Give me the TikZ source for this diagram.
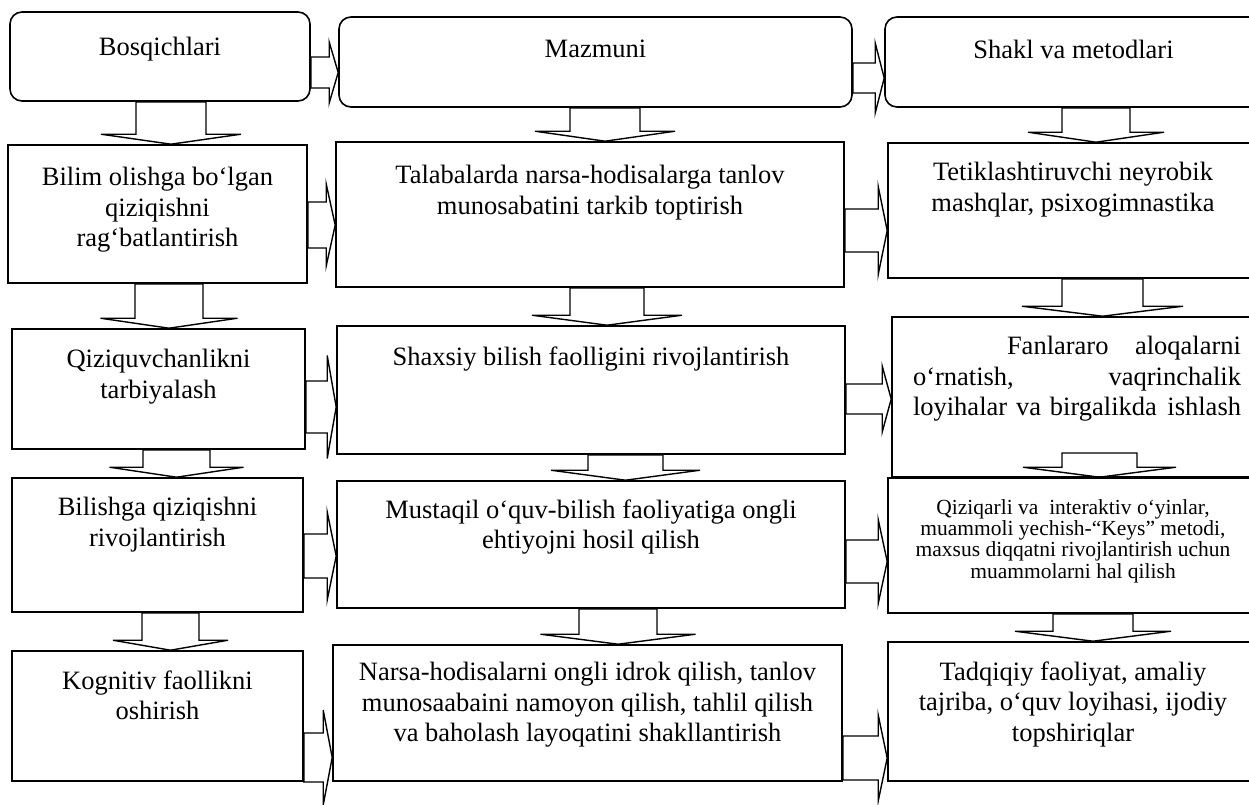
\documentclass[tikz,border=0pt]{standalone}
\usepackage{fontspec}
\setmainfont{Liberation Serif}
\usetikzlibrary{positioning,calc}
\tikzset{
  cellbox/.style={rectangle,draw=black,line width=1.6pt,fill=white,inner sep=0pt},
  headbox/.style={cellbox,rounded corners=12pt},
  celltext/.style={inner sep=0pt,align=center,font=\fontsize{26.5}{30.5}\selectfont},
  smalltext/.style={celltext,font=\fontsize{21.5}{21.3}\selectfont},
  blockarr/.style={draw=black,line width=1.4pt,line join=miter}
}
% hollow block arrows: start point, tip point, centre, shaft half width, head half width
\newcommand{\dnarrow}[5]{%
  \draw[blockarr] ($(#1 -| #3,0)+(-#4,0)$) -- ($(#2 -| #3,0)+(-#4,-10)$)
    -- ($(#2 -| #3,0)+(-#5,-10)$) -- (#2 -| #3,0)
    -- ($(#2 -| #3,0)+(#5,-10)$) -- ($(#2 -| #3,0)+(#4,-10)$)
    -- ($(#1 -| #3,0)+(#4,0)$) -- cycle;}
\newcommand{\rtarrow}[5]{%
  \draw[blockarr] ($(#1 |- 0,#3)+(0,-#4)$) -- ($(#2 |- 0,#3)+(-9,-#4)$)
    -- ($(#2 |- 0,#3)+(-9,-#5)$) -- (#2 |- 0,#3)
    -- ($(#2 |- 0,#3)+(-9,#5)$) -- ($(#2 |- 0,#3)+(-9,#4)$)
    -- ($(#1 |- 0,#3)+(0,#4)$) -- cycle;}

\begin{document}
\begin{tikzpicture}[x=1pt,y=-1pt]
  \clip (0,0) rectangle (1249,804);
  \fill[white] (0,0) rectangle (1249,804);
  % headers
  \node[headbox,minimum width=300pt,minimum height=89pt] (h1) at (160,56.5) {};
  \node[headbox,minimum width=513pt,minimum height=90pt] (h2) at (595.5,62) {};
  \node[headbox,minimum width=377pt,minimum height=90pt] (h3) at (1073.5,62) {};
  \node[celltext,below=26pt of h1.north] (h1t) {Bosqichlari};
  \node[celltext,below=24pt of h2.north] (h2t) {Mazmuni};
  \node[celltext,below=24pt of h3.north] (h3t) {Shakl va metodlari};
  % stages
  \node[cellbox,minimum width=299pt,minimum height=138pt] (a1) at (157.5,214) {};
  \node[cellbox,minimum width=293pt,minimum height=120pt] (a2) at (158.5,389) {};
  \node[cellbox,minimum width=291pt,minimum height=134pt] (a3) at (157.5,545) {};
  \node[cellbox,minimum width=291pt,minimum height=130pt] (a4) at (157.5,716) {};
  \node[celltext,below=23pt of a1.north] (a1t) {Bilim olishga bo‘lgan\\qiziqishni\\rag‘batlantirish};
  \node[celltext,below=21pt of a2.north] (a2t) {Qiziquvchanlikni\\tarbiyalash};
  \node[celltext,below=20pt of a3.north] (a3t) {Bilishga qiziqishni\\rivojlantirish};
  \node[celltext,below=20pt of a4.north] (a4t) {Kognitiv faollikni\\oshirish};
  % content
  \node[cellbox,minimum width=508pt,minimum height=145pt] (b1) at (590,214.5) {};
  \node[cellbox,minimum width=508pt,minimum height=128pt] (b2) at (591,390) {};
  \node[cellbox,minimum width=508pt,minimum height=127pt] (b3) at (591,544.5) {};
  \node[cellbox,minimum width=509pt,minimum height=136pt] (b4) at (587.5,713) {};
  \node[celltext,below=24pt of b1.north] (b1t) {Talabalarda narsa-hodisalarga tanlov\\munosabatini tarkib toptirish};
  \node[celltext,below=21pt of b2.north] (b2t) {Shaxsiy bilish faolligini rivojlantirish};
  \node[celltext,below=19pt of b3.north] (b3t) {Mustaqil o‘quv-bilish faoliyatiga ongli\\ehtiyojni hosil qilish};
  \node[celltext,below=18pt of b4.north] (b4t) {Narsa-hodisalarni ongli idrok qilish, tanlov\\munosaabaini namoyon qilish, tahlil qilish\\va baholash layoqatini shakllantirish};
  % forms and methods
  \node[cellbox,minimum width=370pt,minimum height=135pt] (c1) at (1073,210.5) {};
  \node[cellbox,minimum width=366pt,minimum height=160pt] (c2) at (1075,397) {};
  \node[cellbox,minimum width=370pt,minimum height=135pt] (c3) at (1073,545.5) {};
  \node[cellbox,minimum width=370pt,minimum height=139pt] (c4) at (1073,711.5) {};
  \node[celltext,below=20pt of c1.north] (c1t) {Tetiklashtiruvchi neyrobik\\mashqlar, psixogimnastika};
  \node[celltext,align=left,text width=328pt,below=20pt of c2.north,xshift=2pt] (c2t)
    {\hspace*{94pt}Fanlararo\hfill aloqalarni\\o‘rnatish,\hfill vaqrinchalik\\loyihalar va birgalikda\hfill ishlash};
  \node[smalltext,below=22pt of c3.north] (c3t) {Qiziqarli va\ \ interaktiv o‘yinlar,\\muammoli yechish-“Keys” metodi,\\maxsus diqqatni rivojlantirish uchun\\muammolarni hal qilish};
  \node[celltext,below=20pt of c4.north] (c4t) {Tadqiqiy faoliyat, amaliy\\tajriba, o‘quv loyihasi, ijodiy\\topshiriqlar};
  \coordinate (c2in) at (1099.5,453);
  % down arrows
  \dnarrow{h1.south}{a1.north}{171}{35}{70}
  \dnarrow{a1.south}{a2.north}{169}{34}{68.5}
  \dnarrow{a2.south}{a3.north}{176.5}{33.5}{67}
  \dnarrow{a3.south}{a4.north}{170.5}{28.5}{57.5}
  \dnarrow{h2.south}{b1.north}{605}{35}{70}
  \dnarrow{b1.south}{b2.north}{607}{37}{75}
  \dnarrow{b2.south}{b3.north}{625.5}{37.5}{74.5}
  \dnarrow{b3.south}{b4.north}{618}{39}{77.5}
  \dnarrow{h3.south}{c1.north}{1096}{34}{68}
  \dnarrow{c1.south}{c2.north}{1102.5}{40.5}{80.5}
  \dnarrow{c2in}{c3.north}{1099.5}{37.5}{76.5}
  \dnarrow{c3.south}{c4.north}{1093}{40}{78}
  % right arrows
  \rtarrow{h1.east}{h2.west}{72.5}{15.5}{30.5}
  \rtarrow{h2.east}{h3.west}{78}{15}{35}
  \rtarrow{a1.east}{b1.west}{225}{23}{41}
  \rtarrow{b1.east}{c1.west}{230.5}{21.5}{44}
  \rtarrow{a2.east}{b2.west}{407}{26}{51.5}
  \rtarrow{b2.east}{c2.west}{399}{15}{33}
  \rtarrow{a3.east}{b3.west}{556}{22}{44}
  \rtarrow{b3.east}{c3.west}{561.5}{21.5}{42}
  \rtarrow{a4.east}{b4.west}{757.5}{24.5}{47.5}
  \rtarrow{b4.east}{c4.west}{758}{22}{43}
\end{tikzpicture}
\end{document}
